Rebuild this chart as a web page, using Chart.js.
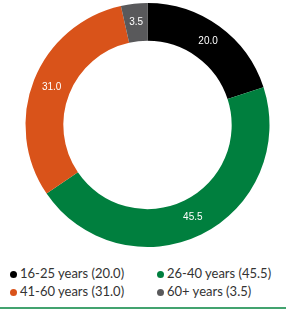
<!DOCTYPE html>
<html>
<head>
<meta charset="utf-8">
<script src="https://cdn.jsdelivr.net/npm/chart.js@4"></script>
<style>
  body { margin: 0; background: #fff; }
  #wrap { position: relative; width: 286px; height: 309px; border-bottom: 2px solid #43a36f; box-sizing: border-box; }
  #chartBox { position: absolute; left: 0; top: 0; width: 286px; height: 250px; }
  #legend { position: absolute; left: 10px; top: 264px; display: grid; grid-template-columns: 147px 130px; row-gap: 0; font-family: Lato, sans-serif; font-size: 13px; color: #333333; }
  #legend div { height: 18.4px; line-height: 18.4px; white-space: nowrap; }
  #legend span.dot { display: inline-block; width: 7px; height: 7px; border-radius: 50%; margin-right: 3px; vertical-align: 0px; }
</style>
</head>
<body>
<div id="wrap">
  <div id="chartBox"><canvas id="ageDonut"></canvas></div>
  <div id="legend"></div>
</div>
<script>
const ageGroups = ["16-25 years", "26-40 years", "41-60 years", "60+ years"];
const shares = [20.0, 45.5, 31.0, 3.5];
const colours = ["#000000", "#007f3e", "#d9531a", "#59595b"];

// white value text in the middle of each ring segment
const segmentLabels = {
    id: "segmentLabels",
    afterDatasetsDraw(chart) {
        const ctx = chart.ctx;
        const meta = chart.getDatasetMeta(0);
        ctx.save();
        ctx.font = "10px 'Liberation Sans', Arial, sans-serif";
        ctx.fillStyle = "#ffffff";
        ctx.textAlign = "center";
        ctx.textBaseline = "middle";
        meta.data.forEach((arc, i) => {
            const p = arc.getCenterPoint();
            ctx.fillText(shares[i].toFixed(1), p.x, p.y);
        });
        ctx.restore();
    }
};

new Chart(document.getElementById("ageDonut"), {
    type: "doughnut",
    data: {
        labels: ageGroups,
        datasets: [{
            data: shares,
            backgroundColor: colours,
            borderWidth: 0,
            hoverOffset: 0
        }]
    },
    options: {
        responsive: true,
        maintainAspectRatio: false,
        animation: false,
        cutout: "69%",
        layout: { padding: { left: 9, top: 3, bottom: 3 } },
        plugins: {
            legend: { display: false },
            tooltip: { enabled: false }
        }
    },
    plugins: [segmentLabels]
});

// legend in two columns, row by row
const legendEl = document.getElementById("legend");
ageGroups.forEach((g, i) => {
    const item = document.createElement("div");
    item.innerHTML = '<span class="dot" style="background:' + colours[i] + '"></span>' + g + " (" + shares[i].toFixed(1) + ")";
    legendEl.appendChild(item);
});
</script>
</body>
</html>
